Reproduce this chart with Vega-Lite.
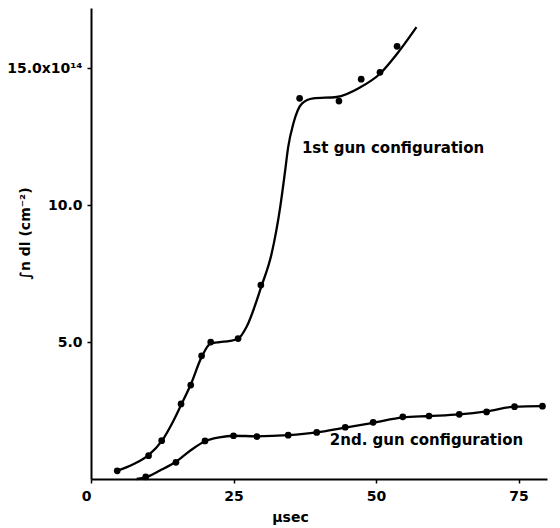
{
  "$schema": "https://vega.github.io/schema/vega-lite/v6.json",
  "width": 456,
  "height": 471,
  "autosize": "none",
  "padding": {"left": 91, "top": 8, "right": 13, "bottom": 49},
  "background": "white",
  "config": {
    "view": {"stroke": null},
    "font": "DejaVu Sans",
    "axis": {
      "domainColor": "black",
      "domainWidth": 2,
      "tickColor": "black",
      "tickWidth": 1.5,
      "tickSize": 4,
      "grid": false,
      "labelFont": "DejaVu Sans",
      "labelFontWeight": "bold",
      "labelFontSize": 14,
      "labelColor": "black",
      "titleFont": "DejaVu Sans",
      "titleFontWeight": "bold",
      "titleFontSize": 14,
      "titleColor": "black"
    }
  },
  "datasets": {
    "curves": [
      {"series": "1st", "t": 4.6, "v": 0.3},
      {"series": "1st", "t": 7.5, "v": 0.55},
      {"series": "1st", "t": 10.1, "v": 0.87},
      {"series": "1st", "t": 12.4, "v": 1.38},
      {"series": "1st", "t": 14.4, "v": 2.1},
      {"series": "1st", "t": 15.8, "v": 2.7},
      {"series": "1st", "t": 17.5, "v": 3.45},
      {"series": "1st", "t": 19.4, "v": 4.45},
      {"series": "1st", "t": 21.0, "v": 4.95},
      {"series": "1st", "t": 22.6, "v": 5.0},
      {"series": "1st", "t": 24.4, "v": 5.04},
      {"series": "1st", "t": 25.8, "v": 5.12},
      {"series": "1st", "t": 27.3, "v": 5.56},
      {"series": "1st", "t": 29.9, "v": 7.04},
      {"series": "1st", "t": 31.7, "v": 8.24},
      {"series": "1st", "t": 33.2, "v": 9.94},
      {"series": "1st", "t": 34.0, "v": 11.16},
      {"series": "1st", "t": 34.6, "v": 12.13},
      {"series": "1st", "t": 35.5, "v": 12.98},
      {"series": "1st", "t": 37.0, "v": 13.71},
      {"series": "1st", "t": 39.0, "v": 13.9},
      {"series": "1st", "t": 43.1, "v": 13.95},
      {"series": "1st", "t": 47.2, "v": 14.3},
      {"series": "1st", "t": 50.7, "v": 14.8},
      {"series": "1st", "t": 53.6, "v": 15.5},
      {"series": "1st", "t": 57.1, "v": 16.5},
      {"series": "2nd", "t": 8.0, "v": 0.0},
      {"series": "2nd", "t": 9.6, "v": 0.06},
      {"series": "2nd", "t": 12.1, "v": 0.31},
      {"series": "2nd", "t": 14.9, "v": 0.63},
      {"series": "2nd", "t": 17.5, "v": 1.05},
      {"series": "2nd", "t": 20.0, "v": 1.38},
      {"series": "2nd", "t": 22.5, "v": 1.52},
      {"series": "2nd", "t": 25.0, "v": 1.58},
      {"series": "2nd", "t": 29.0, "v": 1.56},
      {"series": "2nd", "t": 34.6, "v": 1.6},
      {"series": "2nd", "t": 39.6, "v": 1.7},
      {"series": "2nd", "t": 44.6, "v": 1.88},
      {"series": "2nd", "t": 49.5, "v": 2.05},
      {"series": "2nd", "t": 54.7, "v": 2.25},
      {"series": "2nd", "t": 59.3, "v": 2.3},
      {"series": "2nd", "t": 64.6, "v": 2.36},
      {"series": "2nd", "t": 69.4, "v": 2.47},
      {"series": "2nd", "t": 74.3, "v": 2.64},
      {"series": "2nd", "t": 79.2, "v": 2.66}
    ],
    "points": [
      {"series": "1st", "t": 4.6, "v": 0.3},
      {"series": "1st", "t": 10.1, "v": 0.85},
      {"series": "1st", "t": 12.4, "v": 1.4},
      {"series": "1st", "t": 15.8, "v": 2.74},
      {"series": "1st", "t": 17.5, "v": 3.43},
      {"series": "1st", "t": 19.4, "v": 4.5},
      {"series": "1st", "t": 21.0, "v": 5.0},
      {"series": "1st", "t": 25.8, "v": 5.13},
      {"series": "1st", "t": 29.8, "v": 7.08},
      {"series": "1st", "t": 36.6, "v": 13.9},
      {"series": "1st", "t": 43.5, "v": 13.8},
      {"series": "1st", "t": 47.4, "v": 14.6},
      {"series": "1st", "t": 50.7, "v": 14.85},
      {"series": "1st", "t": 53.7, "v": 15.8},
      {"series": "2nd", "t": 9.6, "v": 0.08},
      {"series": "2nd", "t": 14.9, "v": 0.61},
      {"series": "2nd", "t": 20.0, "v": 1.39},
      {"series": "2nd", "t": 25.0, "v": 1.58},
      {"series": "2nd", "t": 29.1, "v": 1.55},
      {"series": "2nd", "t": 34.6, "v": 1.6},
      {"series": "2nd", "t": 39.6, "v": 1.7},
      {"series": "2nd", "t": 44.6, "v": 1.89},
      {"series": "2nd", "t": 49.5, "v": 2.07},
      {"series": "2nd", "t": 54.7, "v": 2.27},
      {"series": "2nd", "t": 59.3, "v": 2.3},
      {"series": "2nd", "t": 64.6, "v": 2.36},
      {"series": "2nd", "t": 69.4, "v": 2.45},
      {"series": "2nd", "t": 74.3, "v": 2.64},
      {"series": "2nd", "t": 79.2, "v": 2.66}
    ],
    "labels": [
      {"label": "1st gun configuration", "t": 37.0, "v": 12.1},
      {"label": "2nd. gun configuration", "t": 41.9, "v": 1.42}
    ]
  },
  "layer": [
    {
      "data": {"name": "curves"},
      "mark": {"type": "line", "interpolate": "monotone", "color": "black", "strokeWidth": 2.3},
      "encoding": {
        "x": {
          "field": "t", "type": "quantitative",
          "scale": {"domain": [0, 80], "nice": false, "zero": true},
          "axis": {
            "values": [0, 25, 50, 75],
            "title": "μsec",
            "labelPadding": 6,
            "labelAlign": {"condition": {"test": "datum.value == 0", "value": "right"}, "value": "center"},
            "titleX": 199,
            "titleY": 31
          }
        },
        "y": {
          "field": "v", "type": "quantitative",
          "scale": {"domain": [0, 17.2], "nice": false},
          "axis": {
            "values": [5, 10, 15],
            "labelExpr": "datum.value == 15 ? '15.0x10¹⁴' : format(datum.value, '.1f')",
            "title": "∫n dl (cm⁻²)",
            "titleX": -66,
            "titleY": 225,
            "titleAngle": -90,
            "titleAlign": "center",
            "titleBaseline": "middle",
            "labelPadding": 5
          }
        },
        "detail": {"field": "series"}
      }
    },
    {
      "data": {"name": "points"},
      "mark": {"type": "circle", "color": "black", "opacity": 1, "size": 45},
      "encoding": {
        "x": {"field": "t", "type": "quantitative"},
        "y": {"field": "v", "type": "quantitative"}
      }
    },
    {
      "data": {"name": "labels"},
      "mark": {"type": "text", "align": "left", "baseline": "middle", "font": "DejaVu Sans", "fontWeight": "bold", "fontSize": 15, "color": "black"},
      "encoding": {
        "x": {"field": "t", "type": "quantitative"},
        "y": {"field": "v", "type": "quantitative"},
        "text": {"field": "label"}
      }
    }
  ]
}
